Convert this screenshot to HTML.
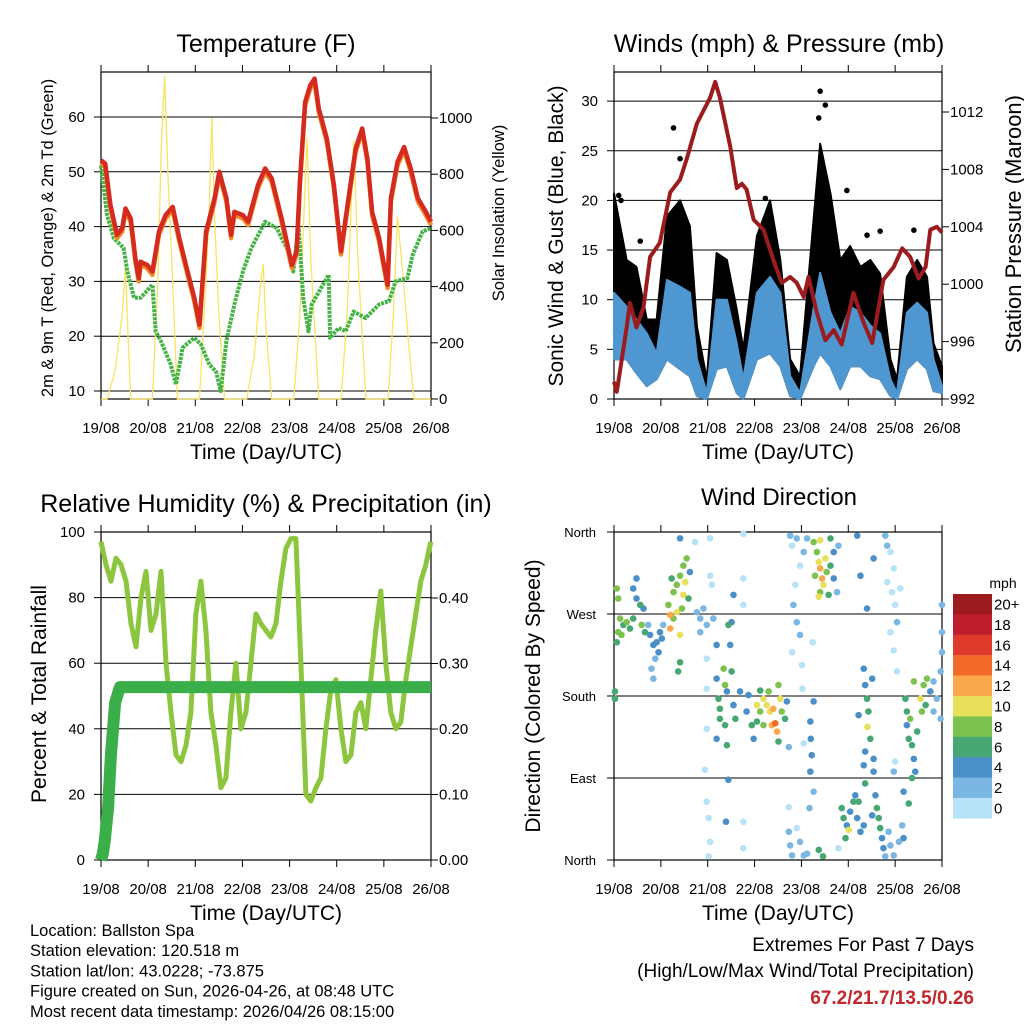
<!DOCTYPE html>
<html><head><meta charset="utf-8">
<style>
html,body{margin:0;padding:0;background:#fff;}
svg{display:block;font-family:"Liberation Sans",Arial,sans-serif;}
</style></head>
<body>
<svg id="c" width="1024" height="1024" viewBox="0 0 1024 1024" xmlns="http://www.w3.org/2000/svg">
<rect width="1024" height="1024" fill="#fff"/>
</svg>
<script>
// ===== Data =====
const dayLabels=["19/08","20/08","21/08","22/08","23/08","24/08","25/08","26/08"];
// Temperature (days, F)
const tDays=[0,.09,.2,.34,.45,.52,.63,.73,.8,.84,.98,1.09,1.23,1.37,1.52,1.66,1.8,1.98,2.09,2.23,2.41,2.51,2.66,2.76,2.83,3.01,3.12,3.33,3.48,3.62,3.83,4.05,4.15,4.22,4.33,4.44,4.53,4.62,4.79,4.94,5.09,5.26,5.4,5.54,5.65,5.75,5.9,6.08,6.15,6.29,6.43,6.57,6.72,6.89,7];
const tRed=[52.1,51.5,44,38.5,39.7,43.3,41.5,34.2,30.6,33.6,33,31.8,39.1,42.1,43.6,37.9,33,27,22.1,39.1,45.2,50,45.2,38.5,42.7,42.1,40.9,47.6,50.6,48.8,41.5,33,35.5,48.2,62.7,65.8,67,61.5,56.1,47.6,35.5,45.8,54.2,57.9,52.4,42.7,37.9,29.4,45.2,51.8,54.5,50.6,45.2,42.7,40.9];
const tdDays=[0,.13,.27,.48,.56,.7,.84,1.09,1.16,1.27,1.48,1.59,1.73,1.98,2.12,2.3,2.44,2.54,2.66,2.83,3.01,3.19,3.48,3.73,3.97,4.08,4.19,4.29,4.4,4.47,4.83,4.86,5.04,5.19,5.36,5.61,5.9,6.11,6.25,6.5,6.61,6.82,7];
const tdGreen=[51.2,42.1,37.9,36.1,31.8,27,27,29.4,20.9,19.1,14.8,11.2,17.9,19.7,18.5,14.8,13.6,10,19.1,25.8,31.8,36.1,40.9,39.7,35.5,31.8,40.3,27,20.9,25.8,31.2,19.7,21.5,20.9,24.5,23.3,25.8,26.4,30,30.6,34.8,39.1,39.7];
// Solar insolation (days, W/m2)
const solarDays=[0,.13,.3,.45,.52,.58,.63, 1.09,1.2,1.28,1.35,1.42,1.5,1.62, 2.09,2.22,2.3,2.35,2.42,2.5,2.62, 3.09,3.25,3.38,3.44,3.5,3.62, 4.09,4.22,4.37,4.45,4.55,4.62, 5.09,5.22,5.36,5.45,5.55,5.62, 6.09,6.2,6.29,6.4,6.55,6.64,7];
const solarVals=[0,0,100,300,480,200,0, 0,400,900,1150,800,500,0, 0,400,700,1000,600,300,0, 0,150,400,480,250,0, 0,300,930,500,200,0, 0,300,920,500,200,0, 0,300,650,450,150,0,0];
// Winds (days, mph)
const wDays=[0,.27,.48,.7,.91,1.13,1.41,1.62,1.77,1.98,2.19,2.41,2.62,2.76,3.05,3.33,3.55,3.76,3.97,4.26,4.4,4.62,4.83,5.04,5.26,5.47,5.68,5.9,6.04,6.25,6.47,6.68,6.82,7];
const gustMax=[20.7,14,13.3,8,8,18.4,20,17.4,7.3,2,14.7,14,9,5,16.4,20,14,4,2.3,18.1,25.7,20.7,14,15.4,13.3,14,12.6,4,2,12.3,14,12.3,5.6,3.3];
const windMax=[10.7,9.3,8,6.6,4.6,12,11.3,10.7,4,0.6,10,10,5.6,2,10.7,12.3,10.7,2.3,0.6,9.1,12.7,8.7,6.6,9.3,8.7,7.4,6.6,2,0.6,8.7,9.7,8.7,4,1.3];
const windMin=[4,4,2.6,1.3,2,4,3,2.3,0.3,0,3,3.3,0.6,0,4,4.6,3.3,0.3,0,3.3,4.6,3.3,1,3.3,3.3,2.3,2,0.3,0,3,4,3,0.8,0.6];
const gustOutDays=[1.27,1.41,4.4,4.51,4.37,4.97,3.23,.56,6.4,5.4,5.68,.1,.15];
const gustOutVal=[27.3,24.2,31,29.6,28.3,21,20.2,15.9,17,16.5,16.9,20.5,20];
const pDays=[0,.06,.27,.34,.48,.63,.77,.98,1.2,1.41,1.55,1.77,1.91,2.05,2.16,2.26,2.48,2.62,2.73,2.83,2.98,3.19,3.4,3.58,3.76,3.9,4.05,4.15,4.33,4.51,4.69,4.86,5.11,5.33,5.51,5.75,5.97,6.15,6.32,6.5,6.65,6.75,6.89,7];
const pres=[993.2,992.5,997,998.7,997,998.4,1001.9,1002.9,1006.4,1007.3,1008.7,1011.2,1012.1,1013,1014.1,1013,1009.6,1006.7,1007,1006.6,1004.5,1003.8,1001.7,1000.1,1000.5,1000.1,999.1,1000.5,998,996.1,996.8,995.8,999.4,997.3,995.9,1000.3,1001.2,1002.5,1001.9,1000.4,1001.2,1003.8,1004,1003.6];
// RH (%) every 0.106 day
const rhStep=0.106;
const rh=[97,90,85,92,90,85,72,65,80,88,70,75,88,60,45,32,30,35,45,75,85,70,45,35,22,25,45,60,40,45,60,75,72,70,68,72,85,95,98,98,60,20,18,22,25,40,52,55,40,30,32,45,48,40,55,70,82,60,45,40,42,55,65,75,85,90,97];
// Precipitation (days, in)
const prDays=[0,.04,.08,.15,.21,.3,.4,7];
const precip=[0,.01,.03,.08,.16,.24,.264,.264];
// Wind direction obs [day, degrees, mph]
const dirObs=[
[.02,185,7],[.02,177,7],[.06,298,9],[.09,287,8],[.09,250,9],[.13,265,8],[.2,258,7],[.27,261,8],[.34,254,7],[.41,265,7],[.41,298,5],[.48,287,5],[.56,280,7],[.59,258,8],[.63,276,5],[.66,250,6],[.06,239,7],[.16,247,9],[.48,309,4],[.73,258,3],
[.77,247,4],[.84,236,4],[.88,221,3],[.91,239,4],[.98,250,4],[.8,210,2],[.95,228,5],[1.05,258,3],[.84,199,3],[1.02,243,4],
[1.16,280,9],[1.2,269,13],[1.2,254,12],[1.27,294,9],[1.34,302,8],[1.41,312,9],[1.48,323,8],[1.55,331,8],[1.52,305,10],[1.48,291,10],[1.34,272,10],[1.41,247,11],[1.23,309,7],[1.59,287,6],[1.62,316,5],[1.41,217,7],[1.37,207,6],[1.27,265,9],[1.45,276,8],
[1.77,272,3],[1.84,265,3],[1.91,276,2],[1.98,258,2],[2.12,265,3],[1.84,250,3],[2.09,302,1],[2.05,312,1],[1.73,349,1],[2.05,353,1],[1.41,353,4],
[1.98,221,1],[1.98,188,1],[1.98,144,1],[1.94,99,1],[1.98,64,1],[2.02,46,1],[2.05,20,1],[2.02,4,1],[2.76,358,1],[2.76,309,1],[2.76,280,1],[2.76,42,1],[2.76,13,1],
[2.19,199,5],[2.23,177,7],[2.26,155,6],[2.34,210,8],[2.37,148,7],[2.41,185,4],[2.44,258,6],[2.48,236,5],[2.51,207,7],[2.55,170,5],[2.59,155,6],[2.41,126,6],[2.19,133,5],[2.26,166,7],[2.51,261,4],[2.55,291,4],[2.37,192,9],[2.69,185,4],[2.83,163,4],[2.87,181,5],[2.94,148,6],[2.98,133,5],[2.44,88,4],[2.39,42,4],[2.19,236,4],
[3.05,170,10],[3.12,163,9],[3.19,177,10],[3.26,170,11],[3.33,163,10],[3.37,148,12],[3.44,150,14],[3.4,166,13],[3.48,141,12],[3.55,177,10],[3.58,163,8],[3.65,155,7],[3.05,152,6],[3.51,192,8],[3.51,130,7],[3.19,148,8],[3.3,185,9],[3.69,174,4],[3.73,124,2],[3.12,186,7],
[3.8,345,1],[3.83,280,2],[3.87,302,1],[3.9,261,3],[3.97,247,2],[4.01,214,1],[4.02,188,1],[3.97,323,1],[4.05,338,2],[3.8,228,1],[4.24,239,1],
[4.19,152,4],[4.2,133,4],[4.22,115,4],[4.19,97,4],[4.26,75,3],[4.17,57,3],[4.26,174,4],[4.05,128,1],
[4.26,349,8],[4.33,338,9],[4.37,327,10],[4.4,320,12],[4.44,309,13],[4.47,302,10],[4.4,294,9],[4.51,331,10],[4.54,316,8],[4.62,323,6],[4.69,338,4],[4.69,309,4],[4.76,294,3],[4.79,345,3],[4.62,353,7],[4.29,312,9],[4.37,289,10],[4.4,351,10],[4.58,291,6],[4.12,353,3],[3.9,353,2],[3.76,356,2],
[3.73,31,2],[3.76,16,3],[3.8,5,3],[3.9,35,1],[3.97,20,2],[4.05,5,2],[4.12,7,3],[3.73,58,1],[4.37,11,6],[4.46,4,7],[4.79,13,1],
[4.86,57,6],[4.9,46,7],[4.97,38,5],[5.01,33,10],[5.04,53,4],[5.11,64,6],[5.19,46,4],[5.26,31,5],[4.94,24,6],[5.33,38,4],[5.15,71,5],[5.22,64,7],
[5.33,210,4],[5.36,192,4],[5.4,177,6],[5.41,146,10],[5.43,163,6],[5.47,133,6],[5.36,119,5],[5.33,104,5],[5.36,84,7],[5.51,199,4],[5.54,111,4],[5.54,97,4],[5.22,159,4],
[5.58,71,4],[5.61,57,6],[5.65,46,6],[5.68,35,6],[5.72,24,5],[5.75,13,4],[5.79,4,3],[5.51,49,4],
[5.79,356,3],[5.83,345,2],[5.9,338,1],[5.97,320,1],[5.93,294,1],[6,280,1],[6.04,261,2],[5.9,250,1],[5.97,230,1],[6.04,207,1],[6.11,298,1],[5.54,331,4],[5.26,312,4],[5.19,356,4],[5.4,276,4],[5.83,305,1],
[5.86,31,2],[5.9,16,2],[5.97,5,2],[6.08,20,2],[6.15,38,3],[6.18,75,4],[6.18,24,4],[6.29,62,6],[6,108,1],[5.97,97,2],
[6.22,177,6],[6.25,163,6],[6.25,148,4],[6.29,133,6],[6.32,155,8],[6.36,126,6],[6.4,111,5],[6.43,97,4],[6.36,90,6],[6.4,196,8],[6.47,141,6],[6.54,177,10],[6.57,163,8],[6.61,192,8],[6.65,170,7],[6.68,199,9],[6.75,185,4],[6.82,196,3],[6.89,177,3],[6.97,207,2],[6.97,155,3],[6.82,163,3],[7,228,2],[7,250,2],[7,280,2]
];
const spdColors=["#b7e2f7","#7ab7e3","#4a8fc7","#47a772","#7dc24f","#e8e05a","#f9a94b","#f26a2a","#e03a2c","#be1e2d","#9b1b1e"];
const spdLabels=["0","2","4","6","8","10","12","14","16","18","20+"];

// ===== Helpers =====
const NS="http://www.w3.org/2000/svg";
const svg=document.getElementById('c');
function mk(tag,attrs,parent,text){const e=document.createElementNS(NS,tag);for(const k in attrs)e.setAttribute(k,attrs[k]);if(text!==undefined)e.textContent=text;(parent||svg).appendChild(e);return e;}
function txt(x,y,s,size,anchor,name,extra){const e=mk('text',Object.assign({x:x,y:y,'font-size':size,'text-anchor':anchor||'middle',fill:'#000'},extra||{}),svg,s);


return e;}
function vtxt(x,y,s,size,name){const e=mk('text',{x:0,y:0,'font-size':size,'text-anchor':'middle',transform:`translate(${x},${y}) rotate(-90)`},svg,s);


return e;}
function path(pts,attrs,name){const d=pts.map((p,i)=>(i?'L':'M')+p[0].toFixed(1)+','+p[1].toFixed(1)).join('');const e=mk('path',Object.assign({d:d,fill:'none'},attrs));


return e;}
function frame(L,R,T,B,name,gridYs){
  const g=mk('g',{});
  
  
  gridYs.forEach(y=>mk('line',{x1:L,x2:R,y1:y,y2:y,stroke:'#000','stroke-width':1},g));
  mk('rect',{x:L,y:T,width:R-L,height:B-T,fill:'none',stroke:'#000','stroke-width':1.2},g);
  for(let i=0;i<8;i++){const x=L+(R-L)*i/7;
    mk('line',{x1:x,x2:x,y1:B,y2:B+7,stroke:'#000'},g);mk('line',{x1:x,x2:x,y1:T,y2:T-7,stroke:'#000'},g);
    txt(x,B+34,dayLabels[i],15,'middle','x-tick-label');}
  txt((L+R)/2,B+60,'Time (Day/UTC)',21,'middle','x-axis-title');
}

// ===== Panel 1: Temperature =====
(function(){
const L=101,R=431,T=72,B=399;
const x=d=>L+(R-L)*d/7, y=v=>391-(v-10)*5.48, yr=v=>399-v*0.281;
const grid=[10,20,30,40,50,60].map(y);
frame(L,R,T,B,'temperature-frame',grid);
[10,20,30,40,50,60].forEach(v=>{mk('line',{x1:L-7,x2:L,y1:y(v),y2:y(v),stroke:'#000'});txt(L-16,y(v)+5,String(v),15,'end','y-tick-label');});
[0,200,400,600,800,1000].forEach(v=>{mk('line',{x1:R,x2:R+7,y1:yr(v),y2:yr(v),stroke:'#000'});txt(R+8,yr(v)+5,String(v),15,'start','y2-tick-label');});
path(solarDays.map((d,i)=>[x(d),yr(solarVals[i])]),{stroke:'#f7e463','stroke-width':1.3},'solar-insolation-line');
path(tdDays.map((d,i)=>[x(d),y(tdGreen[i])]),{stroke:'#45b245','stroke-width':4,'stroke-dasharray':'3 1','stroke-linejoin':'round'},'dewpoint-line');
path(tDays.map((d,i)=>[x(d),y(tRed[i]-0.6)]),{stroke:'#f08c28','stroke-width':4.5,'stroke-linejoin':'round'},'temp-9m-line');
path(tDays.map((d,i)=>[x(d),y(tRed[i])]),{stroke:'#d42a20','stroke-width':4.5,'stroke-linejoin':'round'},'temp-2m-line');
txt(266,52,'Temperature (F)',25,'middle','chart-title');
vtxt(53,238,'2m & 9m T (Red, Orange) & 2m Td (Green)',16.5,'y-axis-title');
vtxt(504,213,'Solar Insolation (Yellow)',16.5,'y2-axis-title');
})();

// ===== Panel 2: Winds & Pressure =====
(function(){
const L=614,R=942,T=72,B=399;
const x=d=>L+(R-L)*d/7, y=v=>399-v*9.93, yp=v=>399-(v-992)*14.35;
const grid=[0,5,10,15,20,25,30].map(y);
frame(L,R,T,B,'winds-frame',grid);
[0,5,10,15,20,25,30].forEach(v=>{mk('line',{x1:L-7,x2:L,y1:y(v),y2:y(v),stroke:'#000'});txt(L-16,y(v)+5,String(v),15,'end','y-tick-label');});
[992,996,1000,1004,1008,1012].forEach(v=>{mk('line',{x1:R,x2:R+7,y1:yp(v),y2:yp(v),stroke:'#000'});txt(R+8,yp(v)+5,String(v),15,'start','y2-tick-label');});
const band=(top,bot,col,name)=>{const pts=wDays.map((d,i)=>[x(d),y(top[i])]).concat(wDays.map((d,i)=>[x(d),y(bot[i])]).reverse());
 const e=mk('polygon',{points:pts.map(p=>p.join(',')).join(' '),fill:col,stroke:col,'stroke-width':2,'stroke-linejoin':'round'});
 
 };
band(gustMax,windMin,'#000','gust-band');
gustOutDays.forEach((d,i)=>{const c=mk('circle',{cx:x(d),cy:y(gustOutVal[i]),r:2.8,fill:'#000'});
 
 });
band(windMax,windMin,'#4f97d1','sonic-wind-band');
path(pDays.map((d,i)=>[x(d),yp(pres[i])]),{stroke:'#9b1b1e','stroke-width':4,'stroke-linejoin':'round'},'pressure-line');
txt(779,52,'Winds (mph) & Pressure (mb)',25,'middle','chart-title');
vtxt(563,236,'Sonic Wind & Gust (Blue, Black)',21,'y-axis-title');
vtxt(1021,224,'Station Pressure (Maroon)',22,'y2-axis-title');
})();

// ===== Panel 3: RH & Precip =====
(function(){
const L=101,R=431,T=532,B=860;
const x=d=>L+(R-L)*d/7, y=v=>860-v*3.28, yr=v=>860-v*655;
const grid=[0,20,40,60,80,100].map(y);
frame(L,R,T,B,'humidity-frame',grid);
[0,20,40,60,80,100].forEach(v=>{mk('line',{x1:L-7,x2:L,y1:y(v),y2:y(v),stroke:'#000'});txt(L-16,y(v)+5,String(v),15,'end','y-tick-label');});
[0,.1,.2,.3,.4].forEach(v=>{mk('line',{x1:R,x2:R+7,y1:yr(v),y2:yr(v),stroke:'#000'});txt(R+8,yr(v)+5,v.toFixed(2),15,'start','y2-tick-label');});
path(rh.map((v,i)=>[x(Math.min(7,i*rhStep)),y(v)]),{stroke:'#8cc63f','stroke-width':5,'stroke-linejoin':'round'},'humidity-line');
path(prDays.map((d,i)=>[x(d),yr(precip[i])]),{stroke:'#3aae49','stroke-width':12,'stroke-linejoin':'round'},'precip-line');
txt(266,512,'Relative Humidity (%) & Precipitation (in)',25,'middle','chart-title');
vtxt(46,694,'Percent & Total Rainfall',21,'y-axis-title');
})();

// ===== Panel 4: Wind direction =====
(function(){
const L=614,R=942,T=532,B=860;
const x=d=>L+(R-L)*d/7, y=v=>860-v/360*328;
const grid=[0,90,180,270,360].map(y);
frame(L,R,T,B,'direction-frame',grid);
const names=['North','East','South','West','North'];
[0,90,180,270,360].forEach((v,i)=>{mk('line',{x1:L-7,x2:L,y1:y(v),y2:y(v),stroke:'#000'});txt(L-18,y(v)+5,names[i],13,'end','y-tick-label');});
const col=s=>spdColors[Math.min(10,Math.floor(s/2))];
const sorted=dirObs.slice().sort((a,b)=>a[2]-b[2]);
sorted.forEach(o=>{const c=mk('circle',{cx:x(o[0]),cy:y(o[1]),r:3.3,fill:col(o[2])});
 
 });
txt(779,505,'Wind Direction',24,'middle','chart-title');
vtxt(540,696,'Direction (Colored By Speed)',21,'y-axis-title');
// colorbar
txt(1003,588,'mph',14,'middle','colorbar-title');
for(let i=0;i<11;i++){const k=10-i;const yy=594+i*20.4;
 const r=mk('rect',{x:953,y:yy,width:39,height:20.6,fill:spdColors[k]});
 
 
 txt(994,yy+15.5,spdLabels[k],15,'start','colorbar-label');}
})();

// ===== Footer text =====
['Location: Ballston Spa','Station elevation: 120.518 m','Station lat/lon: 43.0228; -73.875','Figure created on Sun, 2026-04-26, at 08:48 UTC','Most recent data timestamp: 2026/04/26 08:15:00'].forEach((s,i)=>txt(30,936+i*20.2,s,16.5,'start','station-info-line'));
txt(974,951,'Extremes For Past 7 Days',19,'end','extremes-title');
txt(974,977,'(High/Low/Max Wind/Total Precipitation)',19,'end','extremes-subtitle');
txt(974,1004,'67.2/21.7/13.5/0.26',19,'end','extremes-values',{fill:'#c1272d','font-weight':'bold'});
</script>
</body></html>
